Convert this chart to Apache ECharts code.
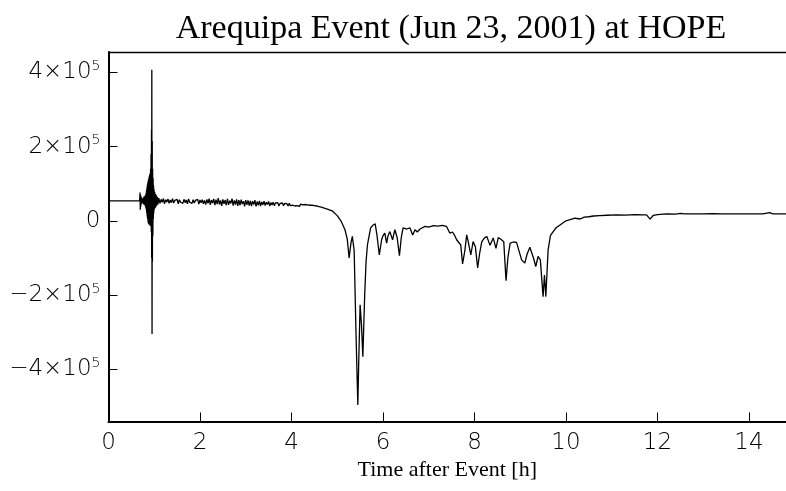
<!DOCTYPE html>
<html>
<head>
<meta charset="utf-8">
<script src="https://cdn.jsdelivr.net/npm/echarts@6/dist/echarts.min.js"></script>
<style>
html,body{margin:0;padding:0;background:#fff;}
#chart{width:786px;height:491px;}
</style>
</head>
<body>
<div id="chart"></div>
<script>
const chartTitle = 'Arequipa Event (Jun 23, 2001) at HOPE';
const xAxisTitle = 'Time after Event [h]';
const xTickValues = [0, 2, 4, 6, 8, 10, 12, 14];
const yTickValues = [-400000, -200000, 0, 200000, 400000];

// time after event in hours
const timeH = [
  0, 0.3, 0.6, 0.68,
  0.690, 0.695, 0.700, 0.705, 0.710, 0.715, 0.720, 0.730, 0.740, 0.750, 0.760, 0.770, 0.780, 0.790, 0.800, 0.810,
  0.820, 0.825, 0.830, 0.835, 0.840, 0.845, 0.850, 0.855, 0.860, 0.865, 0.870, 0.875, 0.880, 0.885, 0.890, 0.895,
  0.900, 0.905, 0.910, 0.915, 0.920, 0.925, 0.930, 0.935, 0.940, 0.943, 0.947, 0.952, 0.956, 0.960, 0.965, 0.970,
  0.975, 0.980, 0.985, 0.990, 0.995, 1.000, 1.010, 1.020, 1.030, 1.040, 1.050, 1.060, 1.070, 1.080,
  1.100, 1.125, 1.150, 1.175, 1.200, 1.225, 1.250, 1.275, 1.300, 1.325,
  1.350, 1.375, 1.400, 1.425, 1.450, 1.475, 1.500, 1.525, 1.550, 1.575,
  1.600, 1.625, 1.650, 1.675, 1.700, 1.725, 1.750, 1.775, 1.800, 1.825,
  1.850, 1.875, 1.900, 1.925, 1.950, 1.975, 2.000, 2.025, 2.050, 2.075,
  2.100, 2.125, 2.150, 2.175, 2.200, 2.225, 2.250, 2.275, 2.300, 2.325,
  2.350, 2.375, 2.400, 2.425, 2.450, 2.475, 2.500, 2.525, 2.550, 2.575,
  2.600, 2.625, 2.650, 2.675, 2.700, 2.725, 2.750, 2.775, 2.800, 2.825,
  2.850, 2.875, 2.900, 2.925, 2.950, 2.975, 3.000, 3.025, 3.050, 3.075,
  3.100, 3.125, 3.150, 3.175, 3.200, 3.225, 3.250, 3.275, 3.300, 3.325,
  3.350, 3.375, 3.400, 3.425, 3.450, 3.475, 3.500, 3.525, 3.550, 3.575,
  3.600, 3.625, 3.650, 3.675, 3.700, 3.725, 3.750, 3.775, 3.800, 3.825,
  3.850, 3.875, 3.900, 3.925, 3.950, 3.975, 4.000, 4.025, 4.050, 4.075,
  4.100, 4.125, 4.150, 4.175, 4.200, 4.225, 4.250, 4.275, 4.300, 4.325,
  4.350, 4.375, 4.400, 4.425, 4.450, 4.475, 4.500, 4.525, 4.550, 4.600, 4.650,
  4.70, 4.80, 4.90, 5.00, 5.08, 5.17,
  5.22, 5.26, 5.30, 5.33, 5.37, 5.41, 5.45, 5.47, 5.50, 5.53, 5.56, 5.60, 5.63, 5.66, 5.73, 5.78, 5.83, 5.87,
  5.92, 5.97, 6.00, 6.04, 6.08, 6.11, 6.15, 6.21, 6.26, 6.31, 6.36, 6.40, 6.44, 6.52, 6.59, 6.65, 6.70, 6.75,
  6.81, 6.92, 7.00, 7.10, 7.20, 7.30, 7.39, 7.46, 7.52, 7.57, 7.61, 7.65, 7.70, 7.74, 7.79, 7.83, 7.87, 7.92,
  7.97, 8.02, 8.07, 8.11, 8.16, 8.22, 8.27, 8.34, 8.41, 8.47, 8.52, 8.59, 8.64, 8.69, 8.73, 8.78, 8.85, 8.92,
  9.03, 9.10, 9.15, 9.21, 9.29, 9.34, 9.39, 9.44, 9.47, 9.50, 9.53, 9.56, 9.61, 9.66, 9.72, 9.79, 9.87, 10.00,
  10.09, 10.20, 10.31, 10.40, 10.50, 10.60, 10.74, 10.90, 11.11, 11.30, 11.50, 11.70, 11.76, 11.80, 11.84, 11.88,
  11.91, 12.00, 12.20, 12.40, 12.50, 12.60, 12.86, 13.00, 13.20, 13.40, 13.66, 14.00, 14.30, 14.46, 14.52, 14.81
];

// ground signal amplitude (raw units)
const amplitude = [
  54000, 54000, 54000, 54000,
  76000, 30000, 70000, 38000, 66000, 44000, 62000, 48000, 60000, 47000, 63000, 44000, 66000, 42000, 68000, 36000,
  74000, 30000, 82000, 22000, 90000, 12000, 98000, 4000, 104000, -4000, 110000, -8000, 115000, -10000, 120000, -8000,
  124000, -12000, 128000, -14000, 140000, -8000, 180000, -30000, 245000, -100000, 407000, -305000, 215000, -110000, 140000, -40000,
  115000, 5000, 95000, 20000, 85000, 30000, 78000, 34000, 72000, 38000, 68000, 42000, 64000, 44000,
  61000, 47000, 58000, 50000, 60000, 46000, 57000, 51000, 59000, 47000,
  56000, 49000, 60000, 48000, 55000, 50000, 58000, 46000, 57000, 50000,
  55000, 47000, 58000, 49000, 56000, 46000, 59000, 50000, 54000, 47000,
  57000, 48000, 55000, 50000, 58000, 45000, 56000, 49000, 57000, 46000,
  55000, 44000, 58000, 47000, 60000, 43000, 56000, 48000, 59000, 42000,
  57000, 45000, 61000, 44000, 55000, 40000, 58000, 46000, 56000, 42000,
  59000, 43000, 54000, 47000, 60000, 41000, 55000, 44000, 58000, 40000,
  56000, 42000, 57000, 45000, 53000, 39000, 56000, 43000, 55000, 41000,
  54000, 40000, 53000, 44000, 56000, 39000, 52000, 42000, 54000, 40000,
  51000, 43000, 53000, 41000, 50000, 44000, 52000, 40000, 49000, 43000,
  50000, 41000, 48000, 44000, 49000, 40000, 47000, 43000, 48000, 41000,
  47000, 42000, 46000, 40000, 47000, 41000, 45000, 42000, 46000, 40000,
  45000, 41000, 44000, 39000, 45000, 40000, 43000, 41000, 44000, 39000,
  43000, 40000, 42000, 39000, 42000, 39500, 41000, 38500, 40000, 38500, 37000,
  35000, 31000, 26000, 14000, 0, -24000,
  -50000, -100000, -60000, -42000, -80000, -300000, -496000, -380000, -226000, -280000, -366000, -200000, -110000, -65000, -19000, -12000, -8000, -40000,
  -92000, -51000, -40000, -33000, -60000, -40000, -29000, -51000, -24000, -45000, -94000, -45000, -19000, -22000, -19000, -38000, -24000, -30000,
  -22000, -15000, -17000, -13000, -14000, -12000, -15000, -33000, -30000, -40000, -51000, -52000, -65000, -116000, -80000, -38000, -60000, -92000,
  -56000, -70000, -127000, -90000, -56000, -46000, -42000, -66000, -46000, -74000, -45000, -51000, -56000, -161000, -100000, -60000, -57000, -58000,
  -105000, -114000, -90000, -71000, -100000, -123000, -96000, -105000, -110000, -204000, -146000, -204000, -78000, -40000, -29000, -18000, -11000, 0,
  3000, 7000, 5000, 10000, 11000, 13000, 14000, 15000, 16000, 15500, 16500, 16000, 16000, 12000, 4600, 8000,
  15000, 17000, 19000, 18000, 20000, 18500, 19000, 18500, 19500, 18800, 18500, 19000, 19000, 22000, 18500, 18500
];

const seriesData = timeH.map((t, i) => [t, amplitude[i]]);

const chart = echarts.init(document.getElementById('chart'), null, {renderer: 'canvas'});

function yLabel(v) {
  if (v === 0) return '{b|0}';
  const n = Math.round(v / 100000);
  const sign = n < 0 ? '\u2212' : '';
  return '{b|' + sign + Math.abs(n) + '\u00d710}{s|5}';
}

const tickFont = {fontFamily: 'DejaVu Sans', fontWeight: 200, fontSize: 23, color: '#000'};

chart.setOption({
  animation: false,
  backgroundColor: '#fff',
  title: {
    text: chartTitle,
    left: 446,
    top: 7,
    textAlign: 'center',
    textStyle: {fontFamily: 'Liberation Serif', fontWeight: 'normal', fontSize: 34, color: '#000'}
  },
  grid: {left: 108.5, right: 0, top: 52, bottom: 69.5, containLabel: false},
  xAxis: [{
    type: 'value',
    min: 0,
    max: 14.81,
    name: xAxisTitle,
    nameLocation: 'middle',
    nameGap: 35,
    nameTextStyle: {fontFamily: 'Liberation Serif', fontSize: 22, color: '#000'},
    axisLine: {show: true, onZero: false, lineStyle: {color: '#000', width: 2}},
    axisTick: {show: true, inside: true, length: 9, customValues: xTickValues, lineStyle: {color: '#000', width: 1}},
    axisLabel: Object.assign({margin: 10, customValues: xTickValues, formatter: v => String(v)}, tickFont),
    splitLine: {show: false}
  }, {
    type: 'value',
    position: 'top',
    min: 0,
    max: 14.81,
    axisLine: {show: true, onZero: false, lineStyle: {color: '#000', width: 1.3}},
    axisTick: {show: false},
    axisLabel: {show: false},
    splitLine: {show: false}
  }],
  yAxis: {
    type: 'value',
    min: -540400,
    max: 454700,
    axisLine: {show: true, onZero: false, lineStyle: {color: '#000', width: 2}},
    axisTick: {show: true, inside: true, length: 9, customValues: yTickValues, lineStyle: {color: '#000', width: 1}},
    axisLabel: {
      margin: 8,
      customValues: yTickValues,
      formatter: yLabel,
      rich: {
        b: {fontFamily: 'DejaVu Sans', fontWeight: 200, fontSize: 23, color: '#000'},
        s: {fontFamily: 'DejaVu Sans', fontWeight: 200, fontSize: 14, color: '#000', padding: [0, 0, 12, 0]}
      }
    },
    splitLine: {show: false}
  },
  series: [{
    type: 'line',
    xAxisIndex: 0,
    data: seriesData,
    showSymbol: false,
    symbol: 'none',
    lineStyle: {color: '#000', width: 1.3},
    clip: true
  }]
});
</script>
</body>
</html>
